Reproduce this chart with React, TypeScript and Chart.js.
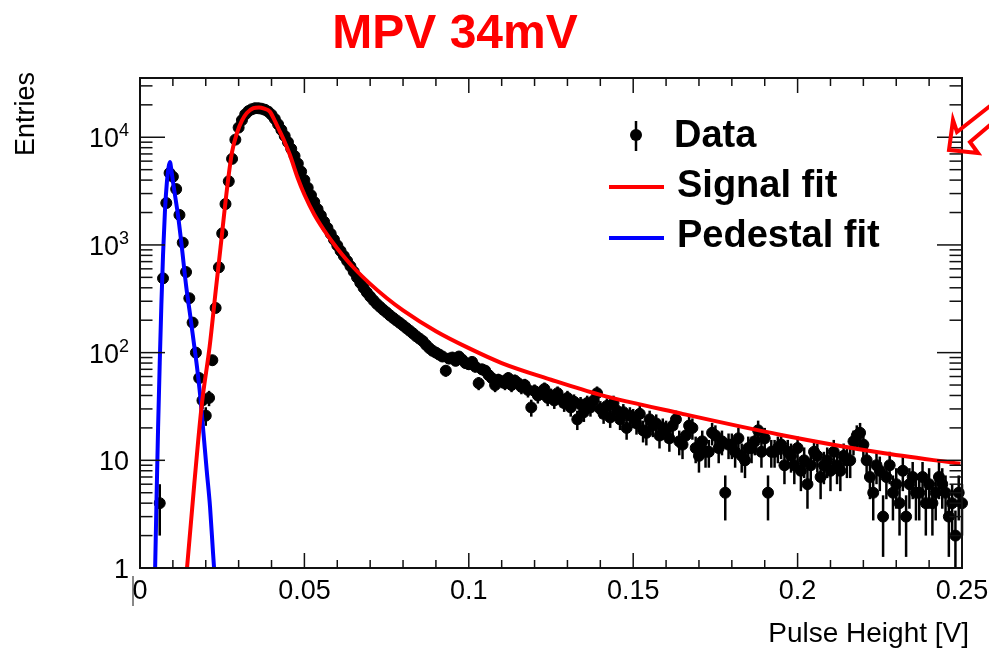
import { useEffect, useRef } from "react";
import { Chart, registerables } from "chart.js";

Chart.register(...registerables);

// ---------------- data ----------------
const BIN_START = 0.001; // centre of first bin [V]
const BIN_WIDTH = 0.001; // bin width [V]

// entries per bin, bins centred at 0.001, 0.002, ... 0.250
const entries: (number | null)[] = [
  null, null, null, null, null, 4, 490, 2450, 4650, 4300,
  3300, 1900, 1050, 560, 320, 190, 100, 58, 36, 26,
  38, 85, 260, 620, 1280, 2400, 3900, 6300, 9500, 12300,
  14400, 16300, 17500, 18200, 18600, 18600, 18400, 18000, 17300, 16200,
  14800, 13200, 11700, 10300, 9000, 7800, 6700, 5700, 4800, 4000,
  3400, 2900, 2500, 2150, 1880, 1640, 1440, 1270, 1120, 990,
  880, 790, 710, 635, 565, 500, 445, 400, 362, 332,
  306, 284, 266, 250, 236, 222, 210, 199, 189, 179,
  169, 160, 151, 142, 135, 128, 118, 110, 104, 100,
  96, 92, 68, 88, 90, 84, 92, 86, 80, 78,
  82, 74, 52, 70, 68, 62, 58, 50, 56, 54,
  52, 58, 50, 55, 52, 48, 50, 45, 31, 44,
  40, 43, 46, 38, 40, 36, 42, 37, 34, 38,
  31, 35, 24, 33, 28, 34, 31, 36, 42, 30,
  27, 32, 25, 34, 29, 24, 28, 20, 26, 25,
  22, 27, 19, 18, 24, 21, 22, 17, 20, 19,
  16, 21, 24, 15, 14, 17, 21, 20, 13, 11,
  15, 12, 12, 18, 17, 13, 15, 5, 14, 14,
  12, 16, 11, 10, 13, 13, 15, 19, 12, 16,
  5, 12, 12, 13, 14, 9, 12, 11, 9, 13,
  8, 10, 6, 9, 12, 11, 7, 9, 10, 8,
  12, 9, 8, 11, 10, 10, 15, 17, 18, 14,
  10, 7, 5, 9, 8, 3, 7, 9, 5, 6,
  4, 8, 3, 6, 7, 5, 5, 7, 4, 6,
  4, 5, 7, 6, 5, 3, 4, 2, 5, 4,
];

// signal (Landau-like) fit curve
const signalFitX = [
  0.0136, 0.0143, 0.0165, 0.0188, 0.0212, 0.023, 0.0245, 0.0265, 0.028, 0.0295,
  0.031, 0.0325, 0.0345, 0.0362, 0.0378, 0.0395, 0.041, 0.0426, 0.0441, 0.0456,
  0.048, 0.05, 0.053, 0.057, 0.06, 0.065, 0.07, 0.075, 0.08, 0.09,
  0.1, 0.11, 0.125, 0.14, 0.165, 0.195, 0.225, 0.2495,
];
const signalFitY = [
  0.6, 1, 6, 33, 115, 370, 950, 3400, 7300, 11000,
  14300, 16800, 18600, 18900, 18400, 17300, 14200, 11200, 8900, 6840,
  4160, 2940, 1920, 1233, 929, 614, 435, 322, 247, 158,
  110, 80, 56, 40.5, 27, 17.2, 11.8, 9.3,
];

// pedestal fit curve
const pedestalFitX = [
  0.0043, 0.0046, 0.005, 0.0055, 0.006, 0.0065, 0.007, 0.0076, 0.0082, 0.0087,
  0.0091, 0.0096, 0.01, 0.0108, 0.0116, 0.0126, 0.0141, 0.0152, 0.0163, 0.0173,
  0.0183, 0.0193, 0.0203, 0.0213, 0.0222, 0.0232,
];
const pedestalFitY = [
  0.5, 1, 4, 20, 80, 280, 800, 2100, 3900, 5300,
  5900, 4800, 3900, 2700, 1850, 1030, 400, 230, 128, 75,
  40, 18, 8, 3.7, 1.4, 0.5,
];

const xMajorTicks = [0, 0.05, 0.1, 0.15, 0.2, 0.25];
const xTickLabels = ["0", "0.05", "0.1", "0.15", "0.2", "0.25"];
const xMinorStep = 0.01;
const yDecades = [1, 10, 100, 1000, 10000];
const yTickBase = ["1", "10", "10", "10", "10"];
const yTickExp = ["", "", "2", "3", "4"];
const legendLabels = ["Data", "Signal fit", "Pedestal fit"];
const TITLE = "MPV 34mV";
const X_TITLE = "Pulse Height [V]";
const Y_TITLE = "Entries";
const X_MIN = 0;
const X_MAX = 0.25;
const Y_MIN = 1;
const Y_MAX = 35500;

// ---------------- styling ----------------
const FONT = '"Liberation Sans", Arial, Helvetica, sans-serif';
const RED = "#ff0000";
const BLUE = "#0000ff";

function line(ctx: CanvasRenderingContext2D, x1: number, y1: number, x2: number, y2: number) {
  ctx.beginPath();
  ctx.moveTo(x1, y1);
  ctx.lineTo(x2, y2);
  ctx.stroke();
}

const rootOverlay = {
  id: "rootOverlay",
  beforeDatasetsDraw(chart: any) {
    const { ctx, chartArea: a, scales } = chart;
    const xs = scales.x;
    const ys = scales.y;
    ctx.save();
    ctx.beginPath();
    ctx.rect(a.left - 4, a.top, a.right - a.left + 8, a.bottom - a.top);
    ctx.clip();
    ctx.strokeStyle = "#000";
    ctx.lineWidth = 2.5;
    entries.forEach((n, i) => {
      if (n == null || n <= 0) return;
      const x = xs.getPixelForValue(BIN_START + i * BIN_WIDTH);
      const e = Math.sqrt(n);
      const yHi = ys.getPixelForValue(n + e);
      const yLo = n - e > 0 ? ys.getPixelForValue(n - e) : a.bottom + 5;
      line(ctx, x, yHi, x, yLo);
    });
    ctx.restore();
  },
  afterDraw(chart: any) {
    const { ctx, chartArea: a, scales } = chart;
    const xs = scales.x;
    const ys = scales.y;
    ctx.save();

    // frame
    ctx.strokeStyle = "#111";
    ctx.lineWidth = 2;
    ctx.strokeRect(a.left, a.top, a.right - a.left, a.bottom - a.top);

    // x ticks (bottom and top, pointing inwards)
    ctx.lineWidth = 1.5;
    const nMinor = Math.round((X_MAX - X_MIN) / xMinorStep);
    for (let k = 0; k <= nMinor; k++) {
      const v = X_MIN + k * xMinorStep;
      const px = xs.getPixelForValue(v);
      const major = xMajorTicks.some((t) => Math.abs(t - v) < 1e-9);
      const len = major ? 15 : 8;
      line(ctx, px, a.bottom, px, a.bottom - len);
      line(ctx, px, a.top, px, a.top + len);
    }

    // y ticks (left and right)
    const decs = [...yDecades, yDecades[yDecades.length - 1] * 10];
    for (const d of decs) {
      for (let m = 1; m <= 9; m++) {
        const v = d * m;
        if (v < Y_MIN || v > Y_MAX) continue;
        const py = ys.getPixelForValue(v);
        const len = m === 1 ? 25 : 12.5;
        line(ctx, a.left, py, a.left + len, py);
        line(ctx, a.right, py, a.right - len, py);
      }
    }

    // x tick labels
    ctx.fillStyle = "#000";
    ctx.font = `27px ${FONT}`;
    ctx.textAlign = "center";
    ctx.textBaseline = "alphabetic";
    xMajorTicks.forEach((v, i) => {
      ctx.fillText(xTickLabels[i], xs.getPixelForValue(v), 599);
    });

    // y tick labels with superscripts
    ctx.textAlign = "right";
    yDecades.forEach((v, i) => {
      const py = ys.getPixelForValue(v);
      const right = 129;
      const exp = yTickExp[i];
      if (exp) {
        ctx.font = `18px ${FONT}`;
        const w = ctx.measureText(exp).width;
        ctx.fillText(exp, right, py - 1);
        ctx.font = `27px ${FONT}`;
        ctx.fillText(yTickBase[i], right - w, py + 10);
      } else {
        ctx.font = `27px ${FONT}`;
        ctx.fillText(yTickBase[i], right, py + 10);
      }
    });

    // stray vertical mark under the origin
    ctx.lineWidth = 1;
    line(ctx, 133, 576, 133, 606);

    // axis titles
    ctx.font = `28px ${FONT}`;
    ctx.textAlign = "right";
    ctx.fillText(X_TITLE, 969, 642);

    ctx.save();
    ctx.translate(27, 72);
    ctx.rotate(-Math.PI / 2);
    ctx.font = `27px ${FONT}`;
    ctx.textAlign = "right";
    ctx.textBaseline = "middle";
    ctx.fillText(Y_TITLE, 0, 0);
    ctx.restore();

    // title
    ctx.fillStyle = RED;
    ctx.font = `bold 48px ${FONT}`;
    ctx.textAlign = "center";
    ctx.textBaseline = "alphabetic";
    ctx.fillText(TITLE, 455, 48);

    // legend
    ctx.fillStyle = "#000";
    ctx.strokeStyle = "#000";
    ctx.lineWidth = 2.5;
    line(ctx, 636, 121, 636, 151);
    ctx.beginPath();
    ctx.arc(636, 135, 6, 0, Math.PI * 2);
    ctx.fill();
    ctx.lineWidth = 4;
    ctx.strokeStyle = RED;
    line(ctx, 609, 187, 664, 187);
    ctx.strokeStyle = BLUE;
    line(ctx, 609, 238, 664, 238);
    ctx.font = `bold 38px ${FONT}`;
    ctx.textAlign = "left";
    ctx.fillText(legendLabels[0], 674, 147);
    ctx.fillText(legendLabels[1], 677, 197);
    ctx.fillText(legendLabels[2], 677, 247);

    // red outline arrow in the corner
    ctx.strokeStyle = RED;
    ctx.lineWidth = 4;
    ctx.lineJoin = "miter";
    ctx.beginPath();
    ctx.moveTo(990, 106);
    ctx.lineTo(957, 132);
    ctx.lineTo(953, 120);
    ctx.lineTo(949, 150);
    ctx.lineTo(978, 153);
    ctx.lineTo(970, 142);
    ctx.lineTo(990, 125);
    ctx.stroke();

    ctx.restore();
  },
};

export default function App() {
  const canvasRef = useRef<HTMLCanvasElement | null>(null);

  useEffect(() => {
    const canvas = canvasRef.current;
    if (!canvas) return;

    const dataPoints = entries
      .map((n, i) => (n == null ? null : { x: BIN_START + i * BIN_WIDTH, y: n }))
      .filter((p) => p !== null) as { x: number; y: number }[];
    const signalPoints = signalFitX.map((x, i) => ({ x, y: signalFitY[i] }));
    const pedestalPoints = pedestalFitX.map((x, i) => ({ x, y: pedestalFitY[i] }));

    const chart = new Chart(canvas, {
      type: "scatter",
      data: {
        datasets: [
          {
            label: legendLabels[0],
            data: dataPoints,
            showLine: false,
            pointRadius: 5.5,
            pointBackgroundColor: "#000",
            pointBorderColor: "#000",
            pointBorderWidth: 1,
            pointHoverRadius: 5.5,
            order: 3,
            clip: { left: 8, right: 8, top: 8, bottom: 0 },
          } as any,
          {
            label: legendLabels[1],
            data: signalPoints,
            showLine: true,
            borderColor: RED,
            backgroundColor: RED,
            borderWidth: 4,
            pointRadius: 0,
            pointHoverRadius: 0,
            cubicInterpolationMode: "monotone",
            order: 1,
          } as any,
          {
            label: legendLabels[2],
            data: pedestalPoints,
            showLine: true,
            borderColor: BLUE,
            backgroundColor: BLUE,
            borderWidth: 4,
            pointRadius: 0,
            pointHoverRadius: 0,
            cubicInterpolationMode: "monotone",
            order: 2,
          } as any,
        ],
      },
      options: {
        responsive: false,
        animation: false,
        events: [],
        layout: { padding: { left: 0, right: 27, top: 78, bottom: 0 } },
        plugins: {
          legend: { display: false },
          tooltip: { enabled: false },
          title: { display: false },
        },
        scales: {
          x: {
            type: "linear",
            min: X_MIN,
            max: X_MAX,
            grid: { display: false },
            border: { display: false },
            ticks: { display: false },
            afterFit: (scale: any) => {
              scale.height = 84;
            },
          },
          y: {
            type: "logarithmic",
            min: Y_MIN,
            max: Y_MAX,
            grid: { display: false },
            border: { display: false },
            ticks: { display: false },
            afterFit: (scale: any) => {
              scale.width = 140;
            },
          },
        },
      } as any,
      plugins: [rootOverlay],
    });

    return () => {
      chart.destroy();
    };
  }, []);

  return (
    <div
      style={{
        position: "fixed",
        left: 0,
        top: 0,
        width: 989,
        height: 652,
        background: "#fff",
      }}
    >
      <canvas ref={canvasRef} width={989} height={652} style={{ display: "block" }} />
    </div>
  );
}
